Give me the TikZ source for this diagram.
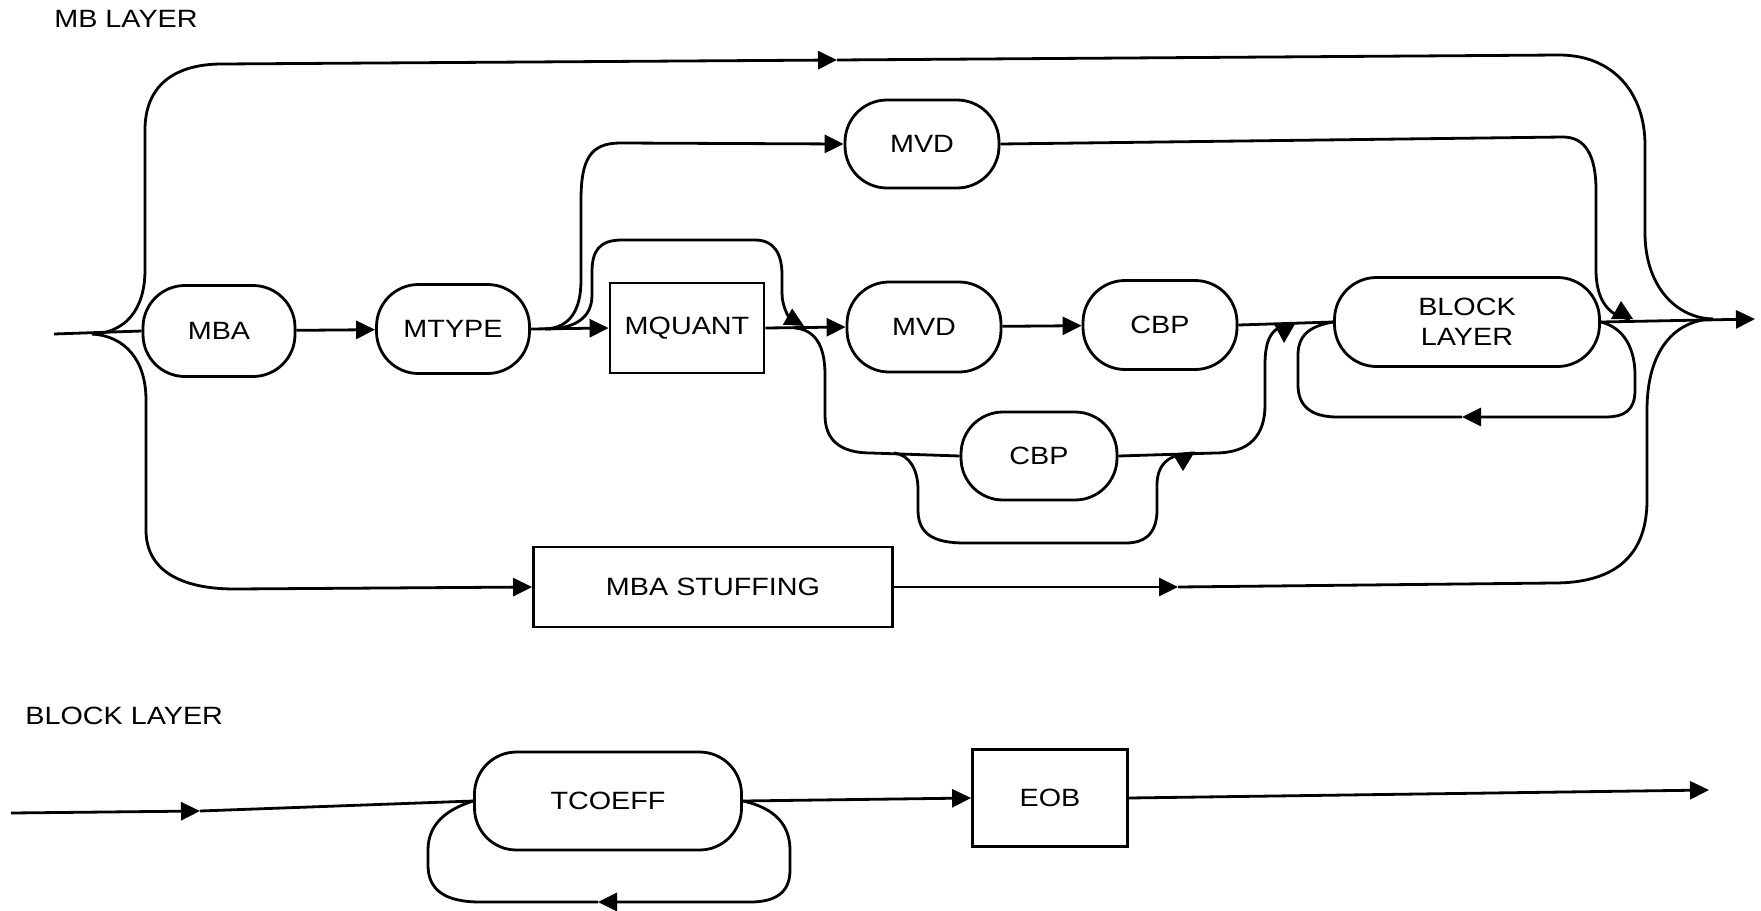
\documentclass[tikz,border=0pt]{standalone}
\usepackage{fontspec}
\setmainfont{Liberation Sans}[FakeStretch=1.15]
\usetikzlibrary{arrows.meta}
\newcommand\lblfont{\fontsize{12.5}{15}\selectfont}
\begin{document}
\begin{tikzpicture}[x=0.5pt,y=-0.5pt,
  line/.style={line width=1.4pt},
  arr/.style={line width=1.4pt,-{Triangle[length=9.5pt,width=9pt]}},
  rnd/.style={draw,line width=1.4pt,rounded corners=21pt,inner sep=0pt,font=\lblfont,align=center},
  sqbox/.style={draw,line width=1.4pt,inner sep=0pt,font=\lblfont},
  sz/.style 2 args={minimum width=#1,minimum height=#2},
  title/.style={anchor=west,inner sep=0pt,font=\lblfont}]
\useasboundingbox (0,0) rectangle (1761,910);

% titles
\node[title] (mbl) at (54,19) {MB LAYER};
\node[title] (bll) at (25,716) {BLOCK LAYER};

% MB layer nodes
\node[rnd,sz={76pt}{45.5pt}] (mba) at (219,331) {MBA};
\node[rnd,sz={76.5pt}{44.5pt}] (mtype) at (453,329) {MTYPE};
\node[sqbox,sz={77pt}{45pt}] (mquant) at (687,328) {MQUANT};
\node[rnd,sz={77pt}{44pt}] (mvdt) at (922,144) {MVD};
\node[rnd,sz={77pt}{45pt}] (mvd) at (924,327) {MVD};
\node[rnd,sz={77pt}{44.5pt}] (cbp) at (1160,325) {CBP};
\node[rnd,sz={78pt}{44pt}] (cbp2) at (1039,456) {CBP};
\node[rnd,sz={132.5pt}{44.5pt}] (block) at (1467,322) {BLOCK\\LAYER};
\node[sqbox,sz={179.5pt}{40pt}] (stuff) at (713,587) {MBA STUFFING};

% junction coordinates
\coordinate (s) at (54,334);
\coordinate (j1) at (92,334);
\coordinate (j2) at (545,329);
\coordinate (j3) at (795,328);
\coordinate (j4) at (894,453);
\coordinate (jr) at (1713,319);
\coordinate (atop) at (837,60);
\coordinate (astuff) at (1178,587);
\coordinate (ablk) at (1462,417);

% main line
\draw[line] (s) -- (mba.west);
\draw[arr] (mba) -- (mtype);
\draw[arr] (mtype.east) -- (mquant.west);
\draw[arr] (mquant.east) -- (mvd.west);
\draw[arr] (mvd) -- (cbp);
\draw[line] (cbp.east) -- (block.west);
\draw[arr] (block.east) -- (1755,319);

% top bypass
\draw[arr] (j1) .. controls (125,333) and (145,310) .. (145,270) -- (145,130)
  .. controls (145,85) and (175,64) .. (222,64) -- (atop);
\draw[line] (atop) -- (1559,55) .. controls (1615,55) and (1645,95) .. (1645,145)
  -- (1645,233) .. controls (1645,285) and (1675,318) .. (jr);

% bottom bypass via MBA STUFFING
\draw[arr] (j1) .. controls (125,336) and (146,360) .. (146,400) -- (146,530)
  .. controls (146,570) and (180,589) .. (235,589) -- (stuff.west);
\draw[arr] (stuff.east) -- (astuff);
\draw[line] (astuff) -- (1554,583) .. controls (1610,583) and (1647,560) .. (1647,500)
  -- (1647,410) .. controls (1647,350) and (1675,320) .. (jr);

% MTYPE -> top MVD
\draw[arr] (j2) .. controls (570,328) and (581,310) .. (581,280) -- (581,200)
  .. controls (581,160) and (590,143) .. (620,143) -- (mvdt.west);
% top MVD -> exit
\draw[line] (mvdt.east) -- (1563,137) .. controls (1585,137) and (1596,155) .. (1596,190)
  -- (1596,270) .. controls (1596,295) and (1605,316) .. (1630,319);
\fill (1611,319) -- (1633,319) -- (1621,301) -- cycle;

% bypass over MQUANT
\draw[arr] (j2) .. controls (575,329) and (592,318) .. (592,295) -- (592,272)
  .. controls (592,250) and (600,240) .. (622,240) -- (755,240)
  .. controls (775,240) and (782,255) .. (782,275) -- (782,293)
  .. controls (782,308) and (790,318) .. (804,326);

% lower branch to second CBP
\draw[line] (j3) .. controls (815,330) and (825,345) .. (825,375) -- (825,415)
  .. controls (825,440) and (840,453) .. (871,453) -- (cbp2.west);
% bypass under second CBP
\draw[line] (j4) .. controls (910,455) and (918,470) .. (918,490) -- (918,510)
  .. controls (918,535) and (935,543) .. (965,543) -- (1126,543)
  .. controls (1148,543) and (1157,530) .. (1157,510) -- (1157,485)
  .. controls (1157,465) and (1168,453) .. (1195,453);
\fill (1172,453) -- (1194,453) -- (1183,471) -- cycle;
% second CBP -> merge into main line
\draw[line] (cbp2.east) -- (1215,453) .. controls (1250,453) and (1265,435) .. (1265,405)
  -- (1265,365) .. controls (1265,338) and (1272,326) .. (1292,324);
\fill (1274,324) -- (1295,324) -- (1284,343) -- cycle;

% BLOCK LAYER repeat loop
\draw[arr] (block.east) .. controls (1625,328) and (1635,350) .. (1635,375) -- (1635,390)
  .. controls (1635,410) and (1625,417) .. (1605,417) -- (ablk);
\draw[line] (ablk) -- (1337,417) .. controls (1310,417) and (1298,405) .. (1298,385)
  -- (1298,355) .. controls (1298,335) and (1310,326) .. (block.west);

% Block layer
\node[rnd,sz={133.5pt}{49pt}] (tcoeff) at (608,801) {TCOEFF};
\node[sqbox,sz={77.5pt}{48.5pt}] (eob) at (1050,798) {EOB};
\coordinate (bs) at (11,813);
\coordinate (abin) at (200,811);
\coordinate (atc) at (598,902);
\draw[arr] (bs) -- (abin);
\draw[line] (abin) -- (tcoeff.west);
\draw[arr] (tcoeff.east) -- (eob.west);
\draw[arr] (eob.east) -- (1709,790);
\draw[arr] (tcoeff.east) .. controls (775,808) and (790,825) .. (790,850) -- (790,870)
  .. controls (790,893) and (775,902) .. (750,902) -- (atc);
\draw[line] (atc) -- (480,902) .. controls (445,902) and (428,890) .. (428,865)
  -- (428,850) .. controls (428,825) and (445,810) .. (tcoeff.west);
\end{tikzpicture}
\end{document}
